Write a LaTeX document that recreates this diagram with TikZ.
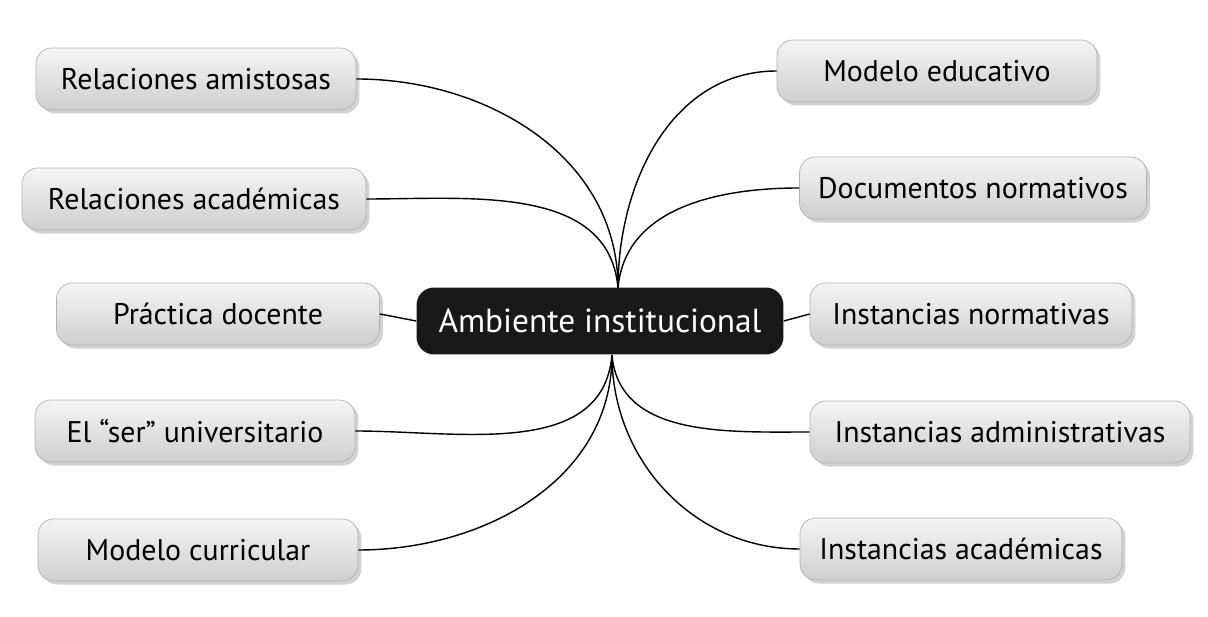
\documentclass[tikz,border=0pt]{standalone}
\usepackage{fontspec}
\setmainfont{PT Sans}
\usetikzlibrary{shadows}
\begin{document}
\begin{tikzpicture}[x=0.02cm,y=-0.02cm,
    topic/.style={rounded corners=9pt,minimum height=1.24cm,inner sep=0pt,
      top color=gray!8,bottom color=gray!38,draw=gray!60,
      drop shadow={shadow xshift=2pt,shadow yshift=-2pt,fill=gray!70},
      font=\fontsize{17}{20}\selectfont},
    hub/.style={rounded corners=10pt,minimum width=7.34cm,minimum height=1.34cm,
      fill=black!90,text=white,font=\fontsize{19}{22}\selectfont},
    link/.style={thick,black}]
  \useasboundingbox (0,0) rectangle (1208,617);
  % centre
  \node[hub] (amb) at (600,321) {Ambiente institucional};
  \coordinate (top) at (618,288);
  \coordinate (bot) at (612,355);
  % left side
  \node[topic,minimum width=6.4cm] (ami) at (196,79) {Relaciones amistosas};
  \node[topic,minimum width=6.88cm] (aca) at (194,199) {Relaciones académicas};
  \node[topic,minimum width=6.46cm] (pra) at (218,314) {Práctica docente};
  \node[topic,minimum width=6.4cm] (ser) at (195,431) {El “ser” universitario};
  \node[topic,minimum width=6.4cm] (cur) at (198,550) {Modelo curricular};
  % right side
  \node[topic,minimum width=6.4cm] (edu) at (937,71) {Modelo educativo};
  \node[topic,minimum width=6.94cm] (doc) at (973,188) {Documentos normativos};
  \node[topic,minimum width=6.44cm] (ins) at (971,314) {Instancias normativas};
  \node[topic,minimum width=7.6cm] (adm) at (1000,432) {Instancias administrativas};
  \node[topic,minimum width=6.44cm] (iac) at (961,549) {Instancias académicas};
  % connectors
  \draw[link] (ami.east) to[out=0,in=90] (top);
  \draw[link] (aca.east) to[out=0,in=95] (top);
  \draw[link] (edu.west) to[out=180,in=90] (top);
  \draw[link] (doc.west) to[out=180,in=85] (top);
  \draw[link] (ser.east) to[out=0,in=-95] (bot);
  \draw[link] (cur.east) to[out=0,in=-90] (bot);
  \draw[link] (adm.west) to[out=180,in=-85] (bot);
  \draw[link] (iac.west) to[out=180,in=-90] (bot);
  \draw[link] (pra.east) -- (amb.west);
  \draw[link] (ins.west) -- (amb.east);
\end{tikzpicture}
\end{document}
